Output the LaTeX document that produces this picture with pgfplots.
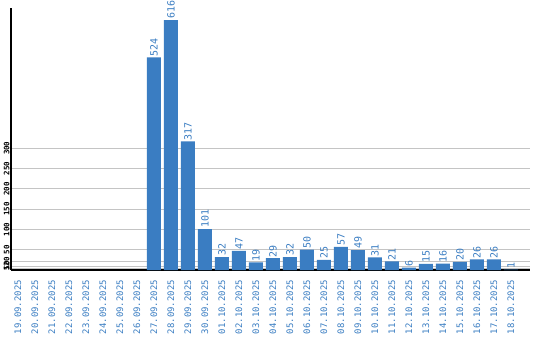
\documentclass[border=0pt]{standalone}
\usepackage{pgfplots}
\pgfplotsset{compat=1.18}
\usepackage{fontspec}
\setmainfont{DejaVu Sans Mono}
\definecolor{barblue}{HTML}{3A7DC2}
\definecolor{gridgray}{HTML}{C4C4C4}
\begin{document}
\begin{tikzpicture}
\useasboundingbox (0,0) rectangle (540bp,340bp);
\begin{axis}[
  at={(11bp,70bp)}, anchor=south west,
  scale only axis,
  width=519bp, height=262bp,
  xmin=-0.41, xmax=30.12,
  ymin=0, ymax=645.6,
  axis x line*=bottom, axis y line*=left,
  axis line style={black, line width=1.1pt, -},
  ymajorgrids, grid style={gridgray, line width=0.8pt},
  major tick length=0pt,
  /pgf/number format/assume math mode=true,
  ytick={5,10,20,50,100,150,200,250,300},
  yticklabel style={rotate=90, anchor=south, font=\fontsize{7.5}{8}\selectfont\bfseries, black, inner sep=1.2pt},
  xtick={0,...,29},
  xticklabels={19.09.2025,20.09.2025,21.09.2025,22.09.2025,23.09.2025,24.09.2025,25.09.2025,26.09.2025,27.09.2025,28.09.2025,29.09.2025,30.09.2025,01.10.2025,02.10.2025,03.10.2025,04.10.2025,05.10.2025,06.10.2025,07.10.2025,08.10.2025,09.10.2025,10.10.2025,11.10.2025,12.10.2025,13.10.2025,14.10.2025,15.10.2025,16.10.2025,17.10.2025,18.10.2025},
  xticklabel style={rotate=90, anchor=east, font=\fontsize{9}{9}\selectfont, text=barblue, inner sep=0pt},
  xticklabel shift=10bp,
  clip=false,
]
\addplot[ybar, bar width=14bp, fill=barblue, draw=none,
  nodes near coords,
  every node near coord/.style={rotate=90, anchor=west, font=\fontsize{10}{10}\selectfont, text=barblue, inner sep=1pt},
] coordinates {
(8,524) (9,616) (10,317) (11,101) (12,32) (13,47) (14,19) (15,29) (16,32) (17,50)
(18,25) (19,57) (20,49) (21,31) (22,21) (23,6) (24,15) (25,16) (26,20) (27,26) (28,26) (29,1)
};
\end{axis}
\end{tikzpicture}
\end{document}
